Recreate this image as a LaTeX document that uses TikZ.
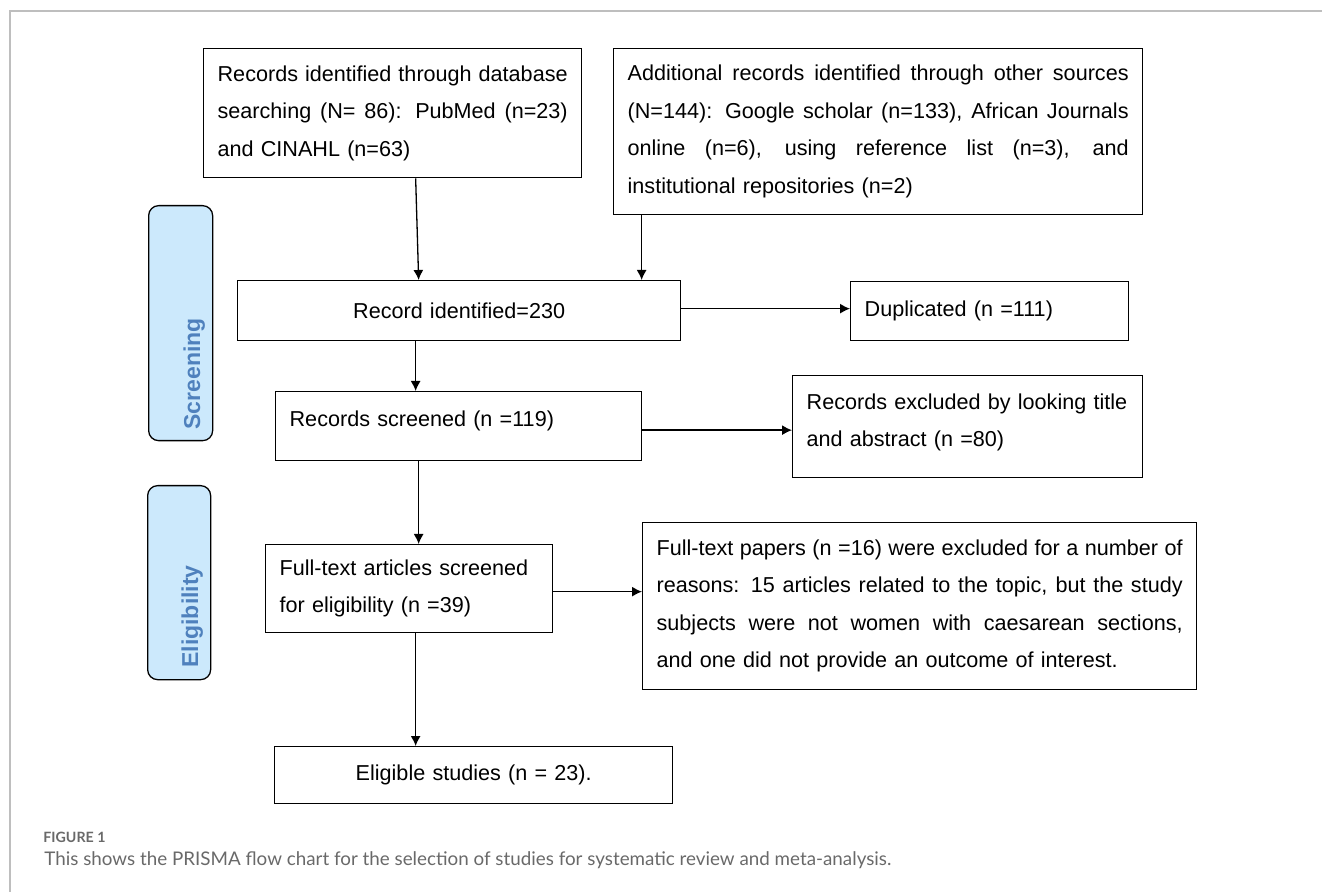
\documentclass[tikz,border=0pt]{standalone}
\usepackage{fontspec}
\setmainfont{Liberation Sans}
\newfontfamily\captionfont{Lato}
\usetikzlibrary{positioning,arrows.meta}
\definecolor{stagefill}{RGB}{204,233,252}
\definecolor{stagetext}{RGB}{79,129,189}
\definecolor{framegray}{RGB}{190,190,190}
\definecolor{captiongray}{RGB}{105,105,105}
\newcommand{\fullline}[1]{\makebox[\hsize][s]{\spaceskip=0pt\xspaceskip=0pt #1}}
\tikzset{
	mybox/.style={draw,line width=0.65pt,anchor=north west,inner xsep=7pt,inner ysep=0pt,align=left,font=\fontsize{10.8}{18.75}\selectfont},
	mystage/.style={draw,line width=0.65pt,anchor=north west,rounded corners=5pt,fill=stagefill},
	mylabel/.style={rotate=90,anchor=base west,inner sep=0pt,text=stagetext,font=\fontsize{11.5}{14}\selectfont\bfseries},
	myarrow/.style={-{Latex[length=5pt,width=5pt]},line width=0.65pt}
}
\begin{document}
\begin{tikzpicture}[x=0.5pt,y=-0.5pt]
	\useasboundingbox (0,0) rectangle (1322,892);
	\draw[framegray,line width=0.75pt] (10,892) -- (10,11) -- (1322,11);
	% stages
	\node[mystage,minimum width=32pt,minimum height=117.5pt](screening) at (148,205){};
	\node[mylabel](screeninglabel) at (200,430){Screening};
	\node[mystage,minimum width=31.5pt,minimum height=97pt](eligibility) at (147,485){};
	\node[mylabel](eligibilitylabel) at (198,668){Eligibility};
	% boxes
	\node[mybox,text width=175pt,minimum height=64.5pt](dbsearch) at (203,48){\fullline{Records identified through database}\\\fullline{searching (N= 86): PubMed (n=23)}\\and CINAHL (n=63)};
	\node[mybox,text width=250.5pt,minimum height=83pt](othersrc) at (613,48){\fullline{Additional records identified through other sources}\\\fullline{(N=144): Google scholar (n=133), African Journals}\\\fullline{online (n=6), using reference list (n=3), and}\\institutional repositories (n=2)};
	\node[mybox,text width=207.5pt,minimum height=30pt,align=center](identified) at (237,280){Record identified=230};
	\node[mybox,text width=125pt,minimum height=29.5pt](duplicated) at (850,281){Duplicated (n =111)};
	\node[mybox,text width=169pt,minimum height=34.5pt,text depth=7pt](screened) at (275,391){Records screened (n =119)};
	\node[mybox,text width=161pt,minimum height=51pt,text depth=25pt](excluded) at (792,375){Records excluded by looking title\\and abstract (n =80)};
	\node[mybox,text width=129.5pt,minimum height=44pt](fulltext) at (265,544){Full-text articles screened\\for eligibility (n =39)};
	\node[mybox,text width=263pt,minimum height=83.5pt](ftexcluded) at (642,522){\fullline{Full-text papers (n =16) were excluded for a number of}\\\fullline{reasons: 15 articles related to the topic, but the study}\\\fullline{subjects were not women with caesarean sections,}\\and one did not provide an outcome of interest.};
	\node[mybox,text width=185pt,minimum height=28.5pt,align=center](eligible) at (274,746){Eligible studies (n = 23).};
	% arrows
	\draw[myarrow] ([xshift=11.5pt]dbsearch.south) -- ([xshift=-20.25pt]identified.north);
	\draw[myarrow] ([xshift=-118.25pt]othersrc.south) -- ([xshift=-118.25pt]othersrc.south |- identified.north);
	\draw[myarrow] ([yshift=1pt]identified.east) -- ([yshift=1pt]identified.east -| duplicated.west);
	\draw[myarrow] ([xshift=-21.75pt]identified.south) -- ([xshift=-21.75pt]identified.south |- screened.north);
	\draw[myarrow] ([yshift=-2pt]screened.east) -- ([yshift=-2pt]screened.east -| excluded.west);
	\draw[myarrow] ([xshift=-20pt]screened.south) -- ([xshift=-20pt]screened.south |- fulltext.north);
	\draw[myarrow] ([yshift=-1.5pt]fulltext.east) -- ([yshift=-1.5pt]fulltext.east -| ftexcluded.west);
	\draw[myarrow] ([xshift=3.25pt]fulltext.south) -- ([xshift=3.25pt]fulltext.south |- eligible.north);
	% caption
	\node[anchor=base west,inner sep=0pt,text=captiongray,font=\captionfont\fontsize{7.1}{9}\selectfont\bfseries](figlabel) at (43,842){FIGURE 1};
	\node[anchor=base west,inner sep=0pt,text=captiongray,font=\captionfont\fontsize{9.4}{11}\selectfont](caption) at (44,865){This shows the PRISMA flow chart for the selection of studies for systematic review and meta-analysis.};
\end{tikzpicture}
\end{document}
